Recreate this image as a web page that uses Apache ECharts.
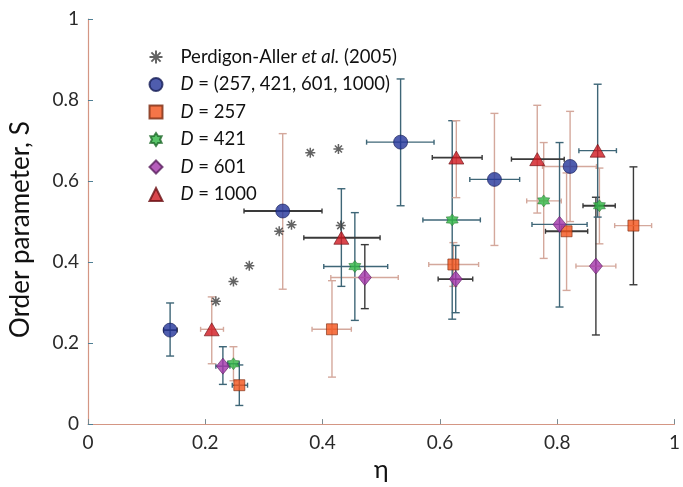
<!DOCTYPE html>
<html><head><meta charset="utf-8">
<script src="https://cdn.jsdelivr.net/npm/echarts@6/dist/echarts.min.js"></script>
<style>html,body{margin:0;padding:0;background:#fff;overflow:hidden}#c{width:683px;height:487px}</style>
</head><body><div id="c"></div>
<script>
// ---- data ----
const perdigonEta = [0.218, 0.248, 0.275, 0.326, 0.347, 0.379, 0.427, 0.431];
const perdigonS   = [0.303, 0.352, 0.391, 0.476, 0.492, 0.670, 0.679, 0.490];

const allEta   = [0.140, 0.332, 0.533, 0.693, 0.822];
const allS     = [0.232, 0.526, 0.696, 0.604, 0.636];
const allEtaLo = [0.129, 0.266, 0.475, 0.651, 0.775];
const allEtaHi = [0.152, 0.399, 0.590, 0.736, 0.867];
const allSLo   = [0.168, 0.333, 0.539, 0.441, 0.500];
const allSHi   = [0.299, 0.717, 0.852, 0.767, 0.772];

const d257Eta   = [0.258, 0.416, 0.623, 0.816, 0.930];
const d257S     = [0.096, 0.234, 0.394, 0.476, 0.490];
const d257EtaLo = [0.246, 0.382, 0.581, 0.780, 0.898];
const d257EtaHi = [0.272, 0.449, 0.666, 0.852, 0.961];
const d257SLo   = [0.046, 0.116, 0.340, 0.330, 0.344];
const d257SHi   = [0.146, 0.354, 0.448, 0.620, 0.635];

const d421Eta   = [0.248, 0.455, 0.621, 0.777, 0.872];
const d421S     = [0.149, 0.389, 0.504, 0.551, 0.539];
const d421EtaLo = [0.238, 0.402, 0.571, 0.748, 0.844];
const d421EtaHi = [0.258, 0.511, 0.669, 0.807, 0.899];
const d421SLo   = [0.107, 0.256, 0.259, 0.409, 0.445];
const d421SHi   = [0.191, 0.522, 0.749, 0.695, 0.632];

const d601Eta   = [0.230, 0.472, 0.627, 0.804, 0.866];
const d601S     = [0.143, 0.362, 0.358, 0.493, 0.390];
const d601EtaLo = [0.218, 0.414, 0.597, 0.757, 0.832];
const d601EtaHi = [0.242, 0.529, 0.656, 0.851, 0.900];
const d601SLo   = [0.098, 0.285, 0.275, 0.289, 0.220];
const d601SHi   = [0.191, 0.443, 0.441, 0.695, 0.560];

const d1000Eta   = [0.211, 0.432, 0.628, 0.766, 0.869];
const d1000S     = [0.234, 0.460, 0.658, 0.654, 0.675];
const d1000EtaLo = [0.192, 0.368, 0.587, 0.722, 0.837];
const d1000EtaHi = [0.231, 0.498, 0.672, 0.812, 0.901];
const d1000SLo   = [0.149, 0.340, 0.559, 0.521, 0.511];
const d1000SHi   = [0.314, 0.581, 0.749, 0.787, 0.839];

const xTicks = [0, 0.2, 0.4, 0.6, 0.8, 1];
const yTicks = [0, 0.2, 0.4, 0.6, 0.8, 1];

// ---- error-bar colour choice per point (0 teal, 1 pink, 2 dark) ----
const barPalette = ['#3e6677', '#d4a89c', '#3a3a3a'];
const allVC = [0, 1, 0, 1, 1],  allHC = [2, 2, 0, 0, 1];
const d257VC = [0, 1, 1, 1, 2], d257HC = [0, 1, 1, 2, 1];
const d421VC = [1, 0, 0, 1, 1], d421HC = [0, 0, 0, 1, 2];
const d601VC = [0, 2, 0, 0, 2], d601HC = [0, 1, 2, 0, 1];
const d1000VC = [1, 0, 1, 1, 0], d1000HC = [1, 2, 2, 2, 0];

// ---- symbols ----
function starPath(n, rIn) {
  let p = '';
  for (let i = 0; i < 2 * n; i++) {
    const r = i % 2 === 0 ? 10 : 10 * rIn;
    const a = Math.PI * i / n - Math.PI / 2;
    p += (i === 0 ? 'M' : 'L') + (r * Math.cos(a)).toFixed(2) + ' ' + (r * Math.sin(a)).toFixed(2);
  }
  return 'path://' + p + 'Z';
}
function asteriskPath() {
  let p = '';
  for (let i = 0; i < 4; i++) {
    const a = Math.PI * i / 4;
    const c = Math.cos(a), s = Math.sin(a), w = 1.5;
    const pts = [[-10, -w], [10, -w], [10, w], [-10, w]].map(([x, y]) => [x * c - y * s, x * s + y * c]);
    p += 'M' + pts.map(q => q[0].toFixed(2) + ' ' + q[1].toFixed(2)).join('L') + 'Z';
  }
  return 'path://' + p;
}
const ASTER = asteriskPath();
const HEXSTAR = starPath(6, 0.62);

function zip(eta, s) { return eta.map((v, i) => [v, s[i]]); }
function errRows(eta, s, elo, ehi, slo, shi, vc, hc) {
  return eta.map((v, i) => [v, s[i], elo[i], ehi[i], slo[i], shi[i], vc[i], hc[i]]);
}

function errSeries(rows) {
  return {
    type: 'custom', silent: true, z: 1, clip: false,
    data: rows,
    encode: { x: 0, y: 1 },
    renderItem: function (params, api) {
      const x = api.value(0), y = api.value(1);
      const xlo = api.value(2), xhi = api.value(3), ylo = api.value(4), yhi = api.value(5);
      const vc = barPalette[api.value(6)], hc = barPalette[api.value(7)];
      const a = api.coord([x, ylo]), b = api.coord([x, yhi]);
      const l = api.coord([xlo, y]), r = api.coord([xhi, y]);
      const cw = 4, ch = 2.5;
      const ln = (x1, y1, x2, y2, col, w) => ({ type: 'line', shape: { x1, y1, x2, y2 }, style: { stroke: col, lineWidth: w } });
      const hw = api.value(7) === 2 ? 1.8 : 1.4;
      return { type: 'group', children: [
        ln(a[0], a[1], b[0], b[1], vc, 1.4),
        ln(a[0] - cw, a[1], a[0] + cw, a[1], vc, 1.4),
        ln(b[0] - cw, b[1], b[0] + cw, b[1], vc, 1.4),
        ln(l[0], l[1], r[0], r[1], hc, hw),
        ln(l[0], l[1] - ch, l[0], l[1] + ch, hc, 1.4),
        ln(r[0], r[1] - ch, r[0], r[1] + ch, hc, 1.4)
      ]};
    }
  };
}

const names = ['Perdigon-Aller et al. (2005)', 'D = (257, 421, 601, 1000)', 'D = 257', 'D = 421', 'D = 601', 'D = 1000'];
const FONT = 'Lato';

const chart = echarts.init(document.getElementById('c'), null, { renderer: 'canvas' });
chart.setOption({
  animation: false,
  backgroundColor: '#fff',
  grid: { left: 86.5, right: 1, top: 19, bottom: 57.5, containLabel: false },
  legend: {
    orient: 'vertical', left: 148.5, top: 47.5, padding: 0,
    itemWidth: 13, itemHeight: 13, itemGap: 8.5,
    data: names,
    textStyle: { fontFamily: FONT, fontSize: 18.5, color: '#111', padding: [0, 0, 0, 13],
      rich: { i: { fontFamily: FONT, fontSize: 18.5, fontStyle: 'italic', color: '#111' } } },
    formatter: function (n) {
      if (n === names[0]) return 'Perdigon-Aller {i|et al.} (2005)';
      return '{i|D}' + n.slice(1);
    }
  },
  xAxis: {
    type: 'value', min: 0, max: 1, interval: 0.2,
    name: 'η', nameLocation: 'middle', nameGap: 28,
    nameTextStyle: { fontFamily: FONT, fontSize: 25, color: '#111' },
    axisLine: { show: true, lineStyle: { color: '#d49684', width: 1.2 } },
    axisTick: { show: true, inside: true, length: 5, lineStyle: { color: '#7a8a90' } },
    splitLine: { show: false },
    axisLabel: { fontFamily: FONT, fontSize: 19, color: '#2a2a2a', margin: 9,
      formatter: v => xTicks.includes(+v.toFixed(2)) ? String(+v.toFixed(2)) : '' }
  },
  yAxis: {
    type: 'value', min: 0, max: 1, interval: 0.2,
    name: 'Order parameter, S', nameLocation: 'middle', nameGap: 54, nameRotate: 90,
    nameTextStyle: { fontFamily: FONT, fontSize: 26, color: '#111', padding: [0, 16, 0, 0] },
    axisLine: { show: true, lineStyle: { color: '#d49684', width: 1.2 } },
    axisTick: { show: true, inside: true, length: 5, lineStyle: { color: '#4f7f94' } },
    splitLine: { show: false },
    axisLabel: { fontFamily: FONT, fontSize: 19, color: '#2a2a2a', margin: 9,
      formatter: v => yTicks.includes(+v.toFixed(2)) ? String(+v.toFixed(2)) : '' }
  },
  series: [
    errSeries(errRows(allEta, allS, allEtaLo, allEtaHi, allSLo, allSHi, allVC, allHC)),
    errSeries(errRows(d257Eta, d257S, d257EtaLo, d257EtaHi, d257SLo, d257SHi, d257VC, d257HC)),
    errSeries(errRows(d421Eta, d421S, d421EtaLo, d421EtaHi, d421SLo, d421SHi, d421VC, d421HC)),
    errSeries(errRows(d601Eta, d601S, d601EtaLo, d601EtaHi, d601SLo, d601SHi, d601VC, d601HC)),
    errSeries(errRows(d1000Eta, d1000S, d1000EtaLo, d1000EtaHi, d1000SLo, d1000SHi, d1000VC, d1000HC)),
    { name: names[0], type: 'scatter', z: 3, symbol: ASTER, symbolSize: 10,
      itemStyle: { color: '#3c3c3c' }, data: zip(perdigonEta, perdigonS) },
    { name: names[1], type: 'scatter', z: 3, symbol: 'circle', symbolSize: 14,
      itemStyle: { color: '#23349a', borderColor: '#141c55', borderWidth: 0.8 }, data: zip(allEta, allS) },
    { name: names[2], type: 'scatter', z: 3, symbol: 'rect', symbolSize: 11,
      itemStyle: { color: '#f2521a', borderColor: '#7a2a10', borderWidth: 0.8 }, data: zip(d257Eta, d257S) },
    { name: names[3], type: 'scatter', z: 3, symbol: HEXSTAR, symbolSize: 12,
      itemStyle: { color: '#2fb544', borderColor: '#1f6a2a', borderWidth: 0.6 }, data: zip(d421Eta, d421S) },
    { name: names[4], type: 'scatter', z: 3, symbol: 'diamond', symbolSize: [13, 16],
      itemStyle: { color: '#a334aa', borderColor: '#5a1f5e', borderWidth: 0.8 }, data: zip(d601Eta, d601S) },
    { name: names[5], type: 'scatter', z: 3, symbol: 'triangle', symbolSize: [15, 13],
      itemStyle: { color: '#d0181f', borderColor: '#6a1014', borderWidth: 0.8 }, data: zip(d1000Eta, d1000S) }
  ]
});
</script></body></html>
